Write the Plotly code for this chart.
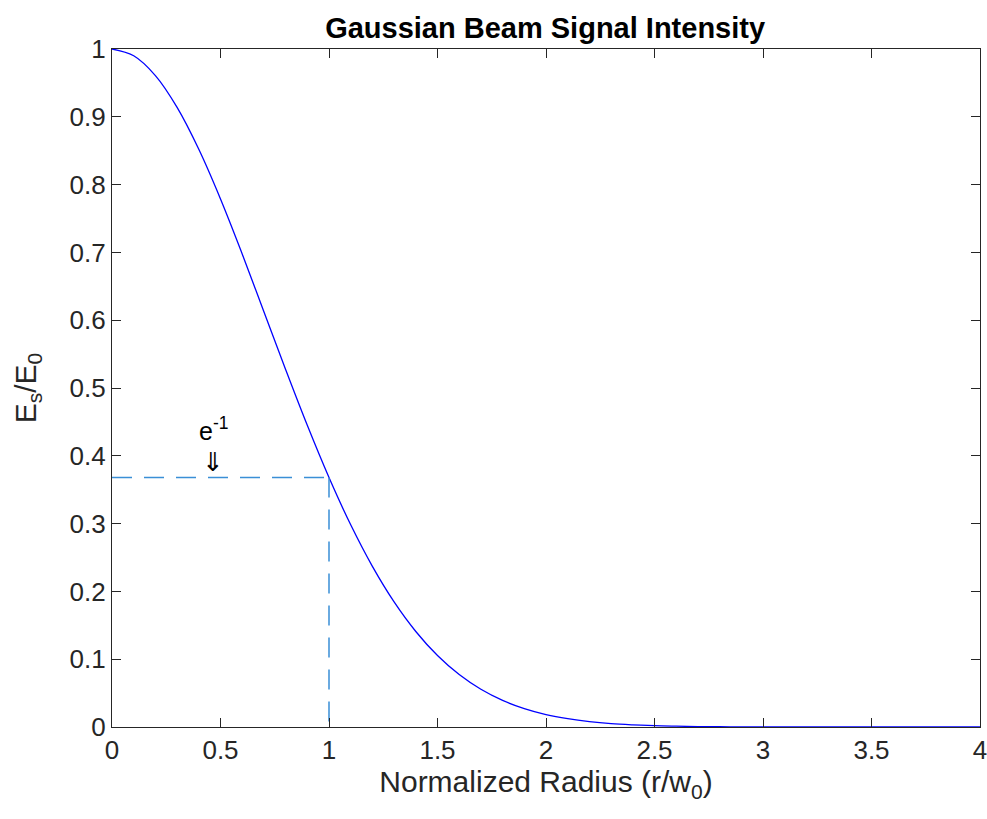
import plotly.graph_objects as go

# Curve values (normalized radius vs Es/E0)
radius = [0.0, 0.1, 0.2, 0.3, 0.4, 0.5, 0.6, 0.7, 0.8, 0.9, 1.0,
          1.1, 1.2, 1.3, 1.4, 1.5, 1.6, 1.7, 1.8, 1.9, 2.0,
          2.1, 2.2, 2.3, 2.4, 2.5, 2.6, 2.7, 2.8, 2.9, 3.0,
          3.1, 3.2, 3.3, 3.4, 3.5, 3.6, 3.7, 3.8, 3.9, 4.0]
intensity = [1.0, 0.9900, 0.9608, 0.9139, 0.8521, 0.7788, 0.6977, 0.6126, 0.5273, 0.4449, 0.3679,
             0.2982, 0.2369, 0.1845, 0.1409, 0.1054, 0.0773, 0.0556, 0.0392, 0.0271, 0.0183,
             0.0122, 0.0079, 0.0050, 0.0032, 0.0019, 0.0012, 0.0007, 0.0004, 0.0002, 0.0001,
             0.0, 0.0, 0.0, 0.0, 0.0, 0.0, 0.0, 0.0, 0.0, 0.0]

e_level = 0.3679
e_radius = 1.0
label_x = 0.466
label_y_text = 0.44
label_y_arrow = 0.393

FONT = "Liberation Sans, Arial, Helvetica, sans-serif"
AX = "#262626"

fig = go.Figure()
fig.add_trace(go.Scatter(x=radius, y=intensity, mode="lines",
                         line=dict(color="#0000FF", width=1.3, shape="spline"),
                         showlegend=False, hoverinfo="skip"))
fig.add_trace(go.Scatter(x=[0, e_radius], y=[e_level, e_level], mode="lines",
                         line=dict(color="#3a8fd6", width=1.5, dash="20px,12px"),
                         showlegend=False))
fig.add_trace(go.Scatter(x=[e_radius, e_radius], y=[e_level, 0], mode="lines",
                         line=dict(color="#3a8fd6", width=1.5, dash="20px,12px"),
                         showlegend=False))

fig.add_annotation(x=label_x, y=label_y_text, text="e<sup>-1</sup>", showarrow=False,
                   font=dict(family=FONT, size=25, color="black"))
fig.add_annotation(x=label_x, y=label_y_arrow, text="⇓", showarrow=False,
                   font=dict(family="Noto Sans, DejaVu Sans, " + FONT, size=26, color="black"))

fig.update_layout(
    width=987, height=819,
    margin=dict(l=112, r=7, t=49, b=92, autoexpand=False),
    paper_bgcolor="white", plot_bgcolor="white",
    font=dict(family=FONT, color=AX),
    title=dict(text="<b>Gaussian Beam Signal Intensity</b>", x=0.5523, xanchor="center",
               y=0.966, yanchor="middle", font=dict(family=FONT, size=29, color="black")),
)
fig.update_xaxes(range=[0, 4], dtick=0.5, tick0=0, showgrid=False, zeroline=False,
                 automargin=False, ticklabeloverflow="allow",
                 showline=True, linecolor=AX, linewidth=1.2, mirror="ticks",
                 ticks="inside", ticklen=9, tickcolor=AX, tickwidth=1,
                 tickfont=dict(family=FONT, size=26, color=AX),
                 title=dict(text="Normalized Radius (r/w<sub>0</sub>)",
                            font=dict(family=FONT, size=30, color=AX), standoff=4))
fig.update_yaxes(range=[0, 1], dtick=0.1, tick0=0, showgrid=False, zeroline=False,
                 automargin=False, ticklabeloverflow="allow",
                 showline=True, linecolor=AX, linewidth=1.2, mirror="ticks",
                 ticks="inside", ticklen=9, tickcolor=AX, tickwidth=1,
                 tickfont=dict(family=FONT, size=26, color=AX),
                 title=dict(text="E<sub>s</sub>/E<sub>0</sub>",
                            font=dict(family=FONT, size=30, color=AX), standoff=24))

fig.write_html("out.html")
